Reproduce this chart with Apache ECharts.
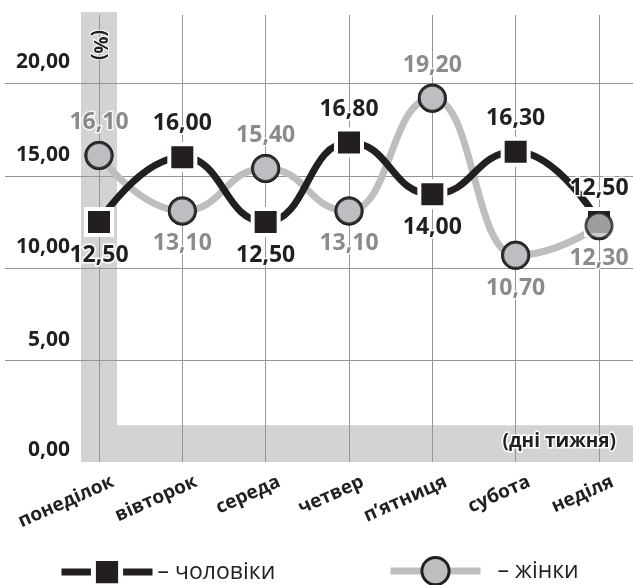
<!DOCTYPE html>
<html>
<head>
<meta charset="utf-8">
<script src="https://cdn.jsdelivr.net/npm/echarts@6/dist/echarts.min.js"></script>
<style>
  html, body { margin: 0; padding: 0; background: #fff; }
  #chart { width: 633px; height: 585px; }
</style>
</head>
<body>
<div id="chart"></div>
<script>
// Days of the week and the share (%) for men and women
const days = ['понеділок', 'вівторок', 'середа', 'четвер', 'п’ятниця', 'субота', 'неділя'];
const men = [12.5, 16.0, 12.5, 16.8, 14.0, 16.3, 12.5];
const women = [16.1, 13.1, 15.4, 13.1, 19.2, 10.7, 12.3];
const yTickValues = [0, 5, 10, 15, 20];

// Which side of each mark its value label sits on
const menLabelSide = ['bottom', 'top', 'bottom', 'top', 'bottom', 'top', 'top'];
const womenLabelSide = ['top', 'bottom', 'top', 'bottom', 'top', 'bottom', 'bottom'];

const INK = '#231f20';
const GREY_LINE = '#bcbec0';
const GREY_TEXT = '#6d6e71';
const GRID = '#939598';
const BAND = '#d1d3d4';
const FONT = '"Open Sans", "DejaVu Sans", sans-serif';
const yMax = 23.7;

const fmt = v => v.toFixed(2).replace('.', ',');

const chart = echarts.init(document.getElementById('chart'), null, { renderer: 'canvas' });

const valueLabel = (color) => ({
  show: true,
  formatter: p => fmt(p.value),
  fontFamily: FONT,
  fontWeight: 'bold',
  fontSize: 23,
  color: color,
  distance: 7,
  textBorderColor: '#fff',
  textBorderWidth: 3
});

const menData = men.map((v, i) => ({ value: v, label: { position: menLabelSide[i] } }));
const womenData = women.map((v, i) => ({ value: v, label: { position: womenLabelSide[i] } }));

const circleStyle = { color: GREY_LINE, borderColor: INK, borderWidth: 3 };
const squareStyle = { color: INK, borderColor: '#fff', borderWidth: 4 };

chart.setOption({
  animation: false,
  backgroundColor: '#fff',
  grid: [
    // data area: first and last day sit on its edges
    { left: 99, right: 34, top: 15, bottom: 132 },
    // full-width area carrying the horizontal rules and value ticks
    { left: 5, right: 0, top: 15, bottom: 132 }
  ],
  xAxis: [
    {
      type: 'category',
      gridIndex: 0,
      data: days,
      boundaryGap: false,
      axisLine: { show: false },
      axisTick: { show: true, length: 9, lineStyle: { color: GRID, width: 1 } },
      splitLine: { show: true, lineStyle: { color: GRID, width: 1 } },
      axisLabel: {
        rotate: 24,
        margin: 34,
        padding: [0, -15, 0, 0],
        fontFamily: FONT,
        fontWeight: 'bold',
        fontSize: 19,
        color: INK
      },
      name: '(дні тижня)',
      nameLocation: 'end',
      nameGap: 17,
      nameTextStyle: {
        fontFamily: FONT,
        fontWeight: 'bold',
        fontSize: 19,
        color: INK,
        align: 'right',
        verticalAlign: 'bottom',
        lineHeight: 22,
        textBorderColor: '#fff',
        textBorderWidth: 3
      }
    },
    { type: 'value', gridIndex: 1, show: false, min: 0, max: 1 }
  ],
  yAxis: [
    {
      type: 'value',
      gridIndex: 0,
      min: 0,
      max: yMax,
      axisLine: { show: false },
      axisTick: { show: false },
      axisLabel: { show: false },
      splitLine: { show: false },
      name: '(%)',
      nameLocation: 'end',
      nameGap: -30,
      nameRotate: -90,
      nameTextStyle: {
        fontFamily: FONT,
        fontWeight: 'bold',
        fontSize: 19,
        color: INK,
        align: 'center',
        verticalAlign: 'middle',
        textBorderColor: '#fff',
        textBorderWidth: 2
      }
    },
    {
      type: 'value',
      gridIndex: 1,
      min: 0,
      max: yMax,
      interval: 5,
      axisLine: { show: false },
      axisTick: { show: false },
      splitLine: {
        show: true,
        showMinLine: false,
        showMaxLine: false,
        lineStyle: { color: GRID, width: 1 }
      },
      axisLabel: {
        inside: true,
        align: 'right',
        margin: 65,
        formatter: v => {
          if (!yTickValues.includes(v)) return '';
          return v === 0 ? '{z|' + fmt(v) + '}' : '{n|' + fmt(v) + '}';
        },
        rich: {
          n: { fontFamily: FONT, fontWeight: 'bold', fontSize: 21, color: INK, padding: [0, 0, 42, 0] },
          z: { fontFamily: FONT, fontWeight: 'bold', fontSize: 21, color: INK, padding: [0, 0, 6, 0] }
        }
      }
    }
  ],
  legend: [
    {
      data: [{
        name: 'чоловіки',
        itemStyle: { color: INK, borderColor: '#fff', borderWidth: 5 },
        lineStyle: { color: INK, width: 7 }
      }],
      left: 53,
      top: 551,
      itemWidth: 91,
      itemHeight: 34,
      selectedMode: false,
      formatter: '– {name}',
      textStyle: { fontFamily: FONT, fontSize: 23, color: INK, padding: [0, 0, 0, 0] }
    },
    {
      data: [{
        name: 'жінки',
        itemStyle: { color: GREY_LINE, borderColor: INK, borderWidth: 3 },
        lineStyle: { color: GREY_LINE, width: 7 }
      }],
      left: 382,
      top: 551,
      itemWidth: 90,
      itemHeight: 34,
      selectedMode: false,
      formatter: '– {name}',
      textStyle: { fontFamily: FONT, fontSize: 23, color: INK, padding: [0, 0, 0, 12] }
    }
  ],
  series: [
    {
      name: 'жінки',
      type: 'line',
      xAxisIndex: 0,
      yAxisIndex: 0,
      data: women,
      z: 2,
      smooth: 0.5,
      smoothMonotone: 'x',
      symbol: 'circle',
      symbolSize: 26,
      itemStyle: circleStyle,
      lineStyle: { color: GREY_LINE, width: 7 },
      emphasis: { disabled: true }
    },
    {
      name: 'чоловіки',
      type: 'line',
      xAxisIndex: 0,
      yAxisIndex: 0,
      data: menData,
      z: 3,
      smooth: 0.5,
      smoothMonotone: 'x',
      symbol: 'rect',
      symbolSize: 26,
      itemStyle: squareStyle,
      lineStyle: { color: INK, width: 7 },
      label: valueLabel(INK),
      emphasis: { disabled: true }
    },
    {
      // women's markers and values, kept above the men's line
      type: 'scatter',
      xAxisIndex: 0,
      yAxisIndex: 0,
      data: womenData,
      z: 4,
      symbol: 'circle',
      symbolSize: 26,
      itemStyle: circleStyle,
      label: valueLabel(GREY_TEXT),
      silent: true,
      emphasis: { disabled: true }
    }
  ]
});

// Grey bands along the first day and along the baseline
function drawBands() {
  const w = chart.getWidth();
  const x0 = chart.convertToPixel({ xAxisIndex: 0 }, days[0]);
  const y0 = chart.convertToPixel({ yAxisIndex: 0 }, 0);
  const yTop = chart.convertToPixel({ yAxisIndex: 0 }, yMax);
  const yBand = chart.convertToPixel({ yAxisIndex: 0 }, 1.5);
  const half = 18;
  const bottom = y0 + 9;
  chart.setOption({
    graphic: [
      {
        type: 'rect', z: -1, silent: true,
        shape: { x: x0 - half, y: yTop - 3, width: half * 2, height: bottom - (yTop - 3) },
        style: { fill: BAND }
      },
      {
        type: 'rect', z: -1, silent: true,
        shape: { x: x0 - half, y: yBand, width: w - (x0 - half), height: bottom - yBand },
        style: { fill: BAND }
      }
    ]
  });
}
drawBands();
</script>
</body>
</html>
